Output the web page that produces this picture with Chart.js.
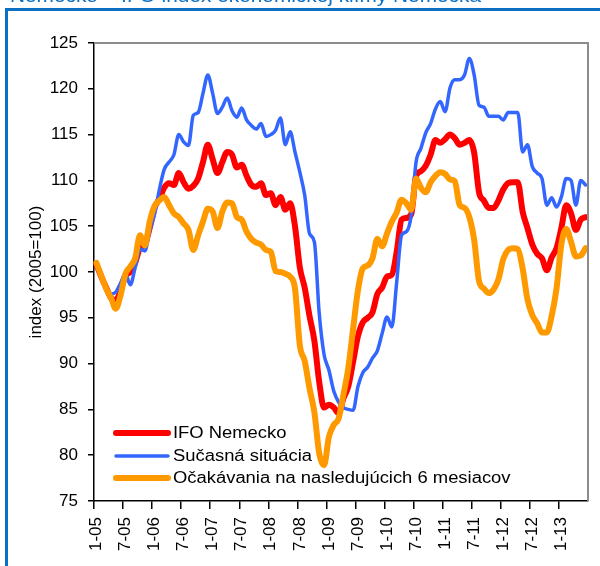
<!DOCTYPE html>
<html>
<head>
<meta charset="utf-8">
<script src="https://cdn.jsdelivr.net/npm/chart.js@4.4.1/dist/chart.umd.min.js"></script>
<style>
  html, body { margin: 0; padding: 0; background: #fff; }
  #wrap { position: relative; width: 600px; height: 566px; overflow: hidden; }
</style>
</head>
<body>
<div id="wrap"><canvas id="ifo-chart" width="600" height="566"></canvas></div>
<script>
// monthly labels 1-05 ... 6-13
let months = [];
for (let i = 0; i < 102; i++) {
    months.push((i % 12 + 1) + "-" + String(5 + Math.floor(i / 12)).padStart(2, "0"));
}

let seriesNames = ["IFO Nemecko", "Sučasná situácia", "Očakávania na nasledujúcich 6 mesiacov"];

let ifoClimate = [
    100.8, 99.5, 98.3, 97.2, 96.9, 98, 99.6, 100, 101, 102.6,
    103, 104.8, 107, 108, 109.2, 109.7, 109.5, 110.8, 109.8, 109.1,
    109.4, 110.2, 112, 113.9, 112.3, 110.8, 112, 113.1, 112.8, 111.4,
    111.7, 110.5, 109.5, 109.3, 109.7, 108.4, 108.6, 107.3, 108.2, 106.8,
    107.5, 105, 100.5, 98.3, 95.2, 92.5, 88, 85.2, 85.5, 85.2,
    84.6, 86.2, 87.5, 90.2, 93, 94.5, 95, 95.6, 97.6, 98.3,
    99.5, 99.7, 102.2, 105.7, 105.9, 106.3, 110.5, 111, 111.6, 112.8,
    114.4, 114.1, 114.5, 115, 114.6, 113.9, 114.1, 114.4, 113, 108.7,
    107.8, 107, 107, 107.8, 109, 109.7, 109.8, 109.8, 106.6, 104.8,
    103, 102, 101.5, 100.2, 101.6, 102.6, 104.8, 107.3, 106.4, 104.6,
    105.7, 106
];

let currentSituation = [
    100.8, 99.3, 98.2, 97.6, 97.8, 98.8, 99.8, 98.6, 100.5, 102.5,
    102.3, 104.5, 106.3, 109, 111.2, 112, 112.8, 115, 114.2, 113.8,
    117.1, 117.4, 119.5, 121.5, 119.5, 117.3, 118, 119, 117.6, 116.9,
    117.9, 116.6, 116, 115.6, 116.2, 114.8, 115, 115.5, 116.8, 113.9,
    115.3, 113.1, 110.9, 108.4, 104.2, 103.3, 95.5, 91, 89.3, 87,
    85.8, 85.2, 85, 84.9, 87.5, 89, 89.6, 90.6, 91.4, 93.3,
    95.1, 94, 98.9, 104, 104.4, 106.2, 112, 113.5, 115.2, 116.2,
    117.8, 118.6, 117.5, 120.1, 121, 121, 121.5, 123.3, 121.5, 118.2,
    118, 117, 117, 117, 116.6, 117.4, 117.4, 117.4, 113.1, 113.9,
    111.5, 110.8, 110.2, 107.3, 108.1, 107.1, 108.2, 110.2, 110, 107.3,
    110, 109.5
];

let expectations = [
    101, 99.6, 98.2, 97.2, 96, 97.5, 99.8, 100.6, 101.5, 104,
    102.9, 105.5, 107.2, 107.8, 108.2, 107.3, 106.4, 106, 105.3, 104.6,
    102.4, 104, 105.5, 106.9, 106.6, 104.8, 106.6, 107.6, 107.5, 106,
    105.7, 104.4, 103.6, 103.2, 103, 102.4, 102.2, 100.1, 100, 99.8,
    99.5, 98.2, 92, 90.3, 87.3, 84.7, 80.2, 78.9, 82, 83.3,
    84, 86.6, 89.5, 93.8, 98, 100.4, 100.7, 101.5, 103.6, 102.8,
    104.2, 105.5, 106.5, 107.9, 107.5, 106.8, 110.2, 109.2, 108.7, 109.8,
    110.5, 110.9, 110.7, 110.1, 109.9, 107.3, 107, 106, 103.5, 99,
    98.2, 97.7, 98.1, 99.2, 101.4, 102.4, 102.6, 102.5, 100.4, 97,
    95.3, 94.4, 93.4, 93.4, 95.2, 98.2, 103, 104.7, 103.3, 101.7,
    101.8, 102.6
];

let fontFamily = '"Liberation Sans", Arial, sans-serif';
let frameBlue = "#0b6fc4";

// blue frame, cut-off heading, grey plot border and the legend inside the plot
let framePlugin = {
    id: "frame",
    beforeDraw(chart) {
        let ctx = chart.ctx;
        ctx.save();
        ctx.strokeStyle = frameBlue;
        ctx.lineWidth = 3;
        ctx.strokeRect(6.5, 9.5, 800, 800);

        ctx.fillStyle = frameBlue;
        ctx.font = "18px " + fontFamily;
        ctx.textBaseline = "alphabetic";
        let heading = "Nemecko – IFO index ekonomickej klímy Nemecka";
        let w = ctx.measureText(heading).width;
        ctx.translate(10, 2);
        ctx.scale(471 / w, 1);
        ctx.fillText(heading, 0, 0);
        ctx.restore();
    },
    afterDraw(chart) {
        let ctx = chart.ctx;
        let area = chart.chartArea;
        ctx.save();
        ctx.strokeStyle = "#8c8c8c";
        ctx.lineWidth = 2;
        ctx.beginPath();
        ctx.moveTo(area.left, area.top);
        ctx.lineTo(area.right, area.top);
        ctx.lineTo(area.right, area.bottom);
        ctx.stroke();

        let rows = [area.bottom - 68, area.bottom - 45, area.bottom - 23];
        chart.data.datasets.forEach(function(ds, i) {
            ctx.strokeStyle = ds.borderColor;
            ctx.lineWidth = ds.borderWidth;
            ctx.lineCap = "round";
            ctx.beginPath();
            ctx.moveTo(area.left + 22, rows[i]);
            ctx.lineTo(area.left + 74, rows[i]);
            ctx.stroke();

            ctx.save();
            ctx.fillStyle = "#000";
            ctx.font = "16px " + fontFamily;
            ctx.textBaseline = "middle";
            ctx.translate(area.left + 79, rows[i] + 1);
            ctx.scale(1.15, 1);
            ctx.fillText(ds.label, 0, 0);
            ctx.restore();
        });
        ctx.restore();
    }
};

function lineSet(label, values, color, width, order) {
    return {
        label: label,
        data: values,
        borderColor: color,
        backgroundColor: color,
        borderWidth: width,
        pointRadius: 0,
        cubicInterpolationMode: "monotone",
        borderJoinStyle: "round",
        borderCapStyle: "round",
        order: order
    };
}

let chartContext = document.getElementById("ifo-chart").getContext("2d");

let ifoChart = new Chart(chartContext, {
    type: "line",
    data: {
        labels: months,
        datasets: [
            lineSet(seriesNames[0], ifoClimate, "#ff0000", 6, 2),
            lineSet(seriesNames[1], currentSituation, "#3366ff", 3.5, 1),
            lineSet(seriesNames[2], expectations, "#ff9900", 6, 0)
        ]
    },
    options: {
        responsive: false,
        animation: false,
        layout: { padding: { left: 22, top: 43, right: 12, bottom: 0 } },
        plugins: {
            legend: { display: false },
            tooltip: { enabled: false }
        },
        scales: {
            x: {
                offset: true,
                afterFit: function(scale) {
                    scale.height = 65;
                    scale.paddingLeft = 0;
                    scale.paddingRight = 0;
                },
                border: { color: "#000", width: 1.5 },
                grid: {
                    offset: true,
                    drawOnChartArea: false,
                    tickLength: 8,
                    lineWidth: 1.5,
                    color: function(c) { return c.index % 6 === 0 ? "#000" : "rgba(0,0,0,0)"; }
                },
                ticks: {
                    autoSkip: false,
                    minRotation: 90,
                    maxRotation: 90,
                    padding: 8,
                    color: "#000",
                    font: { family: fontFamily, size: 17 },
                    callback: function(val, i) { return i % 6 === 0 ? months[i] : ""; }
                }
            },
            y: {
                min: 75,
                max: 125,
                afterFit: function(scale) { scale.width = 72; },
                border: { color: "#000", width: 1.5 },
                grid: { drawOnChartArea: false, tickLength: 6, color: "#000", lineWidth: 1.5 },
                ticks: {
                    stepSize: 5,
                    padding: 10,
                    color: "#000",
                    font: { family: fontFamily, size: 17 }
                },
                title: {
                    display: true,
                    text: "index (2005=100)",
                    color: "#000",
                    padding: { top: 4, bottom: 0 },
                    font: { family: fontFamily, size: 17 }
                }
            }
        }
    },
    plugins: [framePlugin]
});
</script>
</body>
</html>
